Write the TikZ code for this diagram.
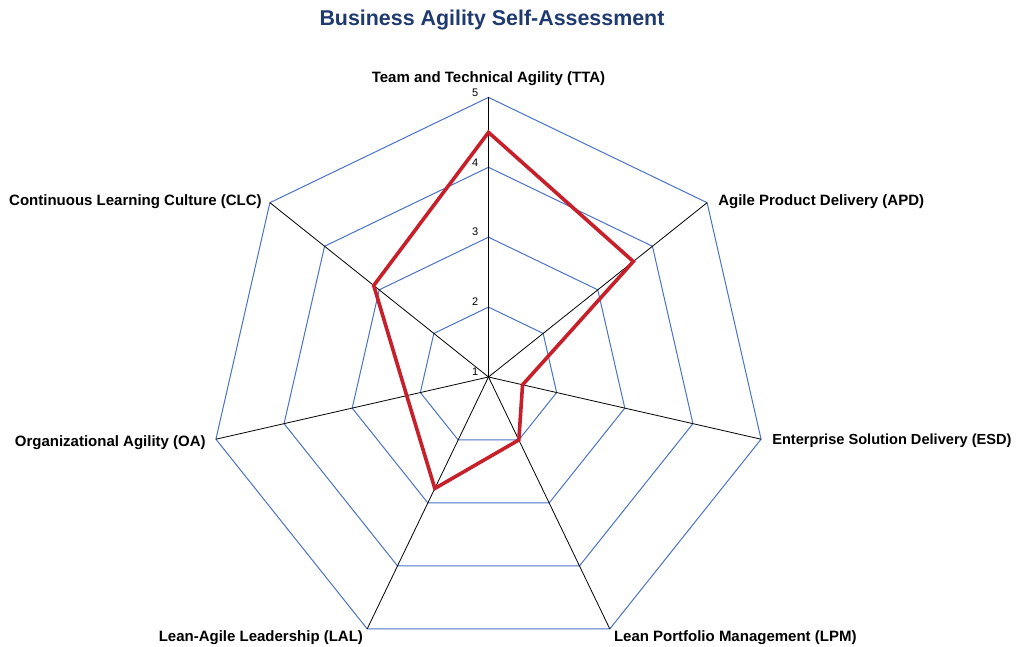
\documentclass[tikz,border=0pt]{standalone}
\usepackage{fontspec}
\setmainfont{Liberation Sans}
\usetikzlibrary{positioning}
\definecolor{gridblue}{HTML}{4A72C8}
\definecolor{scorered}{HTML}{C8202A}
\definecolor{titleblue}{HTML}{1F3A6E}

\begin{document}
\begin{tikzpicture}[x=69.9pt, y=69.9pt,
    spoke/.style={black, line width=0.8pt},
    ring/.style={gridblue, line width=1pt},
    score/.style={scorered, line width=3.6pt, line join=miter},
    axislabel/.style={font=\bfseries\fontsize{15}{17}\selectfont, inner sep=0pt},
    tick/.style={font=\fontsize{11}{12}\selectfont, inner sep=0pt}]
  \useasboundingbox (-488.5pt,-270pt) rectangle (529.5pt,377pt);
  \coordinate (c) at (0,0);
  % axis ends, clockwise from the top
  \foreach \name [count=\i from 0] in {tta,apd,esd,lpm,lal,oa,clc}
    \coordinate (\name) at ({90-\i*360/7}:4);
  % rings for levels 2 to 5
  \foreach \r in {1,2,3,4}
    \draw[ring] (90:\r) \foreach \i in {1,...,6} {-- ({90-\i*360/7}:\r)} -- cycle;
  % spokes
  \foreach \name in {tta,apd,esd,lpm,lal,oa,clc}
    \draw[spoke] (c) -- (\name);
  % scale numbers
  \foreach \v in {1,...,5}
    \node[tick, anchor=south east, xshift=-10pt, yshift=1pt] (n\v) at (0,\v-1) {\v};
  % scores
  \foreach \s [count=\i from 0] in {3.5,2.65,0.5,1,1.77,1.2,2.1}
    \coordinate (s\i) at ({90-\i*360/7}:\s);
  \draw[score] (s0) -- (s1) -- (s2) -- (s3) -- (s4) -- (s5) -- (s6) -- cycle;
  % labels
  \node[axislabel, above=12pt of tta] (ltta) {Team and Technical Agility (TTA)};
  \node[axislabel, above right=-6pt and 11pt of apd] (lapd) {Agile Product Delivery (APD)};
  \node[axislabel, font=\bfseries\fontsize{14.6}{17}\selectfont, right=11pt of esd, yshift=-2pt] (lesd) {Enterprise Solution Delivery (ESD)};
  \node[axislabel, below right=2pt and 4pt of lpm] (llpm) {Lean Portfolio Management (LPM)};
  \node[axislabel, below left=2pt and 4pt of lal] (llal) {Lean-Agile Leadership (LAL)};
  \node[axislabel, left=10pt of oa, yshift=-3pt] (loa) {Organizational Agility (OA)};
  \node[axislabel, above left=-6pt and 8pt of clc] (lclc) {Continuous Learning Culture (CLC)};
  \node[font=\bfseries\fontsize{21.4}{24}\selectfont, text=titleblue] (title) at (3.5pt,357pt) {Business Agility Self-Assessment};
\end{tikzpicture}
\end{document}
